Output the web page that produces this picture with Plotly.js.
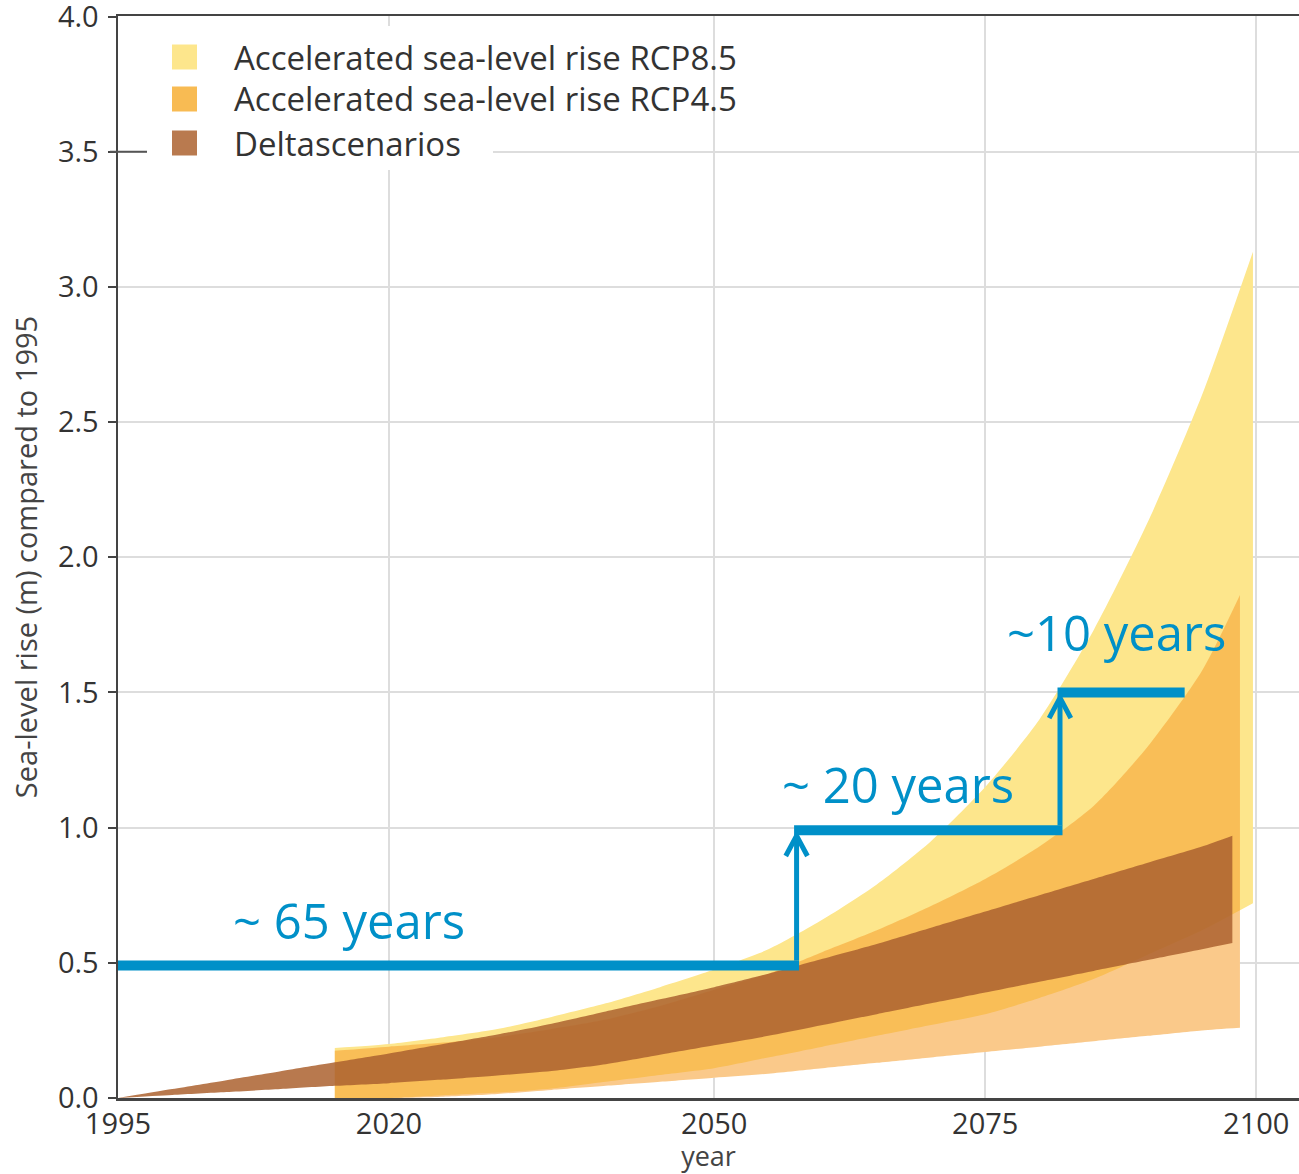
<!DOCTYPE html>
<html>
<head>
<meta charset="utf-8">
<script src="https://cdn.plot.ly/plotly-3.0.1.min.js"></script>
<style>html,body{margin:0;padding:0;background:#fff;}#chart{width:1299px;height:1174px;}</style>
</head>
<body>
<div id="chart"></div>
<script>
// ---------- data ----------
const yearsDelta = [1995, 2000, 2005, 2010, 2015, 2020, 2025, 2030, 2035, 2040, 2045, 2050, 2055, 2060, 2065, 2070, 2075, 2080, 2085, 2090, 2095, 2097.8];
const deltaUpper = [0, 0.033, 0.066, 0.099, 0.132, 0.165, 0.20, 0.235, 0.275, 0.32, 0.365, 0.41, 0.46, 0.515, 0.57, 0.63, 0.69, 0.75, 0.81, 0.87, 0.93, 0.97];
const deltaLower = [0, 0.011, 0.022, 0.033, 0.045, 0.055, 0.068, 0.083, 0.10, 0.125, 0.16, 0.195, 0.23, 0.27, 0.31, 0.35, 0.39, 0.43, 0.47, 0.51, 0.55, 0.573];

const years45 = [2015, 2020, 2025, 2030, 2035, 2040, 2045, 2050, 2055, 2060, 2065, 2070, 2075, 2080, 2085, 2090, 2095, 2098.5];
const rcp45Upper = [0.175, 0.19, 0.205, 0.225, 0.255, 0.29, 0.34, 0.40, 0.46, 0.54, 0.62, 0.71, 0.81, 0.93, 1.08, 1.30, 1.58, 1.86];
const rcp45Lower = [0, 0, 0.005, 0.015, 0.03, 0.045, 0.06, 0.075, 0.09, 0.11, 0.13, 0.15, 0.17, 0.19, 0.21, 0.23, 0.25, 0.26];

const years85 = [2015, 2020, 2025, 2030, 2035, 2040, 2045, 2050, 2055, 2060, 2065, 2070, 2075, 2080, 2085, 2090, 2095, 2099.7];
const rcp85Upper = [0.185, 0.20, 0.225, 0.255, 0.30, 0.35, 0.41, 0.475, 0.55, 0.66, 0.79, 0.95, 1.15, 1.40, 1.73, 2.13, 2.60, 3.13];
const rcp85Lower = [0, 0, 0.01, 0.02, 0.035, 0.06, 0.085, 0.11, 0.15, 0.19, 0.23, 0.27, 0.31, 0.37, 0.44, 0.53, 0.62, 0.72];

const xTickVals = [1995, 2020, 2050, 2075, 2100];
const yTickVals = [0, 0.5, 1, 1.5, 2, 2.5, 3, 3.5, 4];
const legendLabels = ['Accelerated sea-level rise RCP8.5', 'Accelerated sea-level rise RCP4.5', 'Deltascenarios'];

// step annotation: years where each level is reached, and the levels (m)
const stepYears = [1995, 2057.6, 2081.9, 2093.4];
const stepLevels = [0.49, 0.99, 1.5];
const stepLabels = ['~ 65 years', '~ 20 years', '~10 years'];
const stepLabelYears = [2016.3, 2067.0, 2087.1];
const stepLabelLevels = [0.66, 1.16, 1.725];

// ---------- styling ----------
const BLUE = '#0090c8';
const C_YELLOW = '#fde68c';
const C_ORANGE = 'rgba(246,159,46,0.56)';
const C_BROWN = 'rgba(171,97,47,0.85)';
const legendSwatch = ['#fde68c', '#f8bb53', '#b97a4f'];

function bandTraces(xs, up, lo, color, name) {
  const ln = { width: 0, shape: 'spline', smoothing: 0.7 };
  return [
    { x: xs, y: lo, type: 'scatter', mode: 'lines', line: ln, hoverinfo: 'skip', showlegend: false },
    { x: xs, y: up, type: 'scatter', mode: 'lines', line: ln, fill: 'tonexty', fillcolor: color, name: name, showlegend: false }
  ];
}

const traces = [].concat(
  bandTraces(years45, rcp45Upper, rcp45Lower, '#ffffff', 'backing'),
  bandTraces(years85, rcp85Upper, rcp85Lower, C_YELLOW, legendLabels[0]),
  bandTraces(years45, rcp45Upper, rcp45Lower, C_ORANGE, legendLabels[1]),
  bandTraces(yearsDelta, deltaUpper, deltaLower, C_BROWN, legendLabels[2])
);

// pixel helpers for the manual legend (paper coordinates)
const PL = 118, PR = 1299, PT = 16, PB = 1098;
const px = v => (v - PL) / (PR - PL);
const py = v => (PB - v) / (PB - PT);

const shapes = [];
const annotations = [];

// legend box + swatches + labels
shapes.push({ type: 'rect', xref: 'paper', yref: 'paper', x0: px(147), x1: px(493), y0: py(170), y1: py(26), fillcolor: '#ffffff', line: { width: 0 }, layer: 'above' });
// dark extension of the 3.5 tick
shapes.push({ type: 'line', xref: 'paper', yref: 'y', x0: px(110), x1: px(147), y0: 3.5, y1: 3.5, line: { color: '#555555', width: 2 }, layer: 'above' });
const rowY = [57, 99, 143];
legendLabels.forEach((lab, i) => {
  shapes.push({ type: 'rect', xref: 'paper', yref: 'paper', x0: px(172), x1: px(197), y0: py(rowY[i] + 12.5), y1: py(rowY[i] - 12.5), fillcolor: legendSwatch[i], line: { width: 0 }, layer: 'above' });
  annotations.push({ xref: 'paper', yref: 'paper', x: px(232), y: py(rowY[i]), xanchor: 'left', yanchor: 'middle', text: lab, showarrow: false, font: { family: 'Open Sans, sans-serif', size: 33, color: '#333333' } });
});

// blue step
const halfV = 2.5 / 10.84; // half of vertical stroke, in years
for (let i = 0; i < stepLevels.length; i++) {
  const xa = stepYears[i] - (i === 0 ? 0 : halfV);
  const xb = stepYears[i + 1] + (i < stepLevels.length - 1 ? halfV : 0);
  shapes.push({ type: 'line', xref: 'x', yref: 'y', x0: xa, x1: xb, y0: stepLevels[i], y1: stepLevels[i], line: { color: BLUE, width: 10 }, layer: 'above' });
  if (i < stepLevels.length - 1) {
    const xv = stepYears[i + 1];
    const tip = stepLevels[i + 1] - 0.02;
    shapes.push({ type: 'line', xref: 'x', yref: 'y', x0: xv, x1: xv, y0: stepLevels[i] + 0.018, y1: tip, line: { color: BLUE, width: 5 }, layer: 'above' });
    const dx = 1.0, dy = 0.075;
    shapes.push({ type: 'path', xref: 'x', yref: 'y', path: `M ${xv - dx},${tip - dy} L ${xv},${tip} L ${xv + dx},${tip - dy}`, line: { color: BLUE, width: 5 }, layer: 'above' });
  }
}
stepLabels.forEach((t, i) => {
  annotations.push({ xref: 'x', yref: 'y', x: stepLabelYears[i], y: stepLabelLevels[i], xanchor: 'center', yanchor: 'middle', text: t, showarrow: false, font: { family: 'Open Sans, sans-serif', size: 49, color: BLUE } });
});

const layout = {
  width: 1299, height: 1174,
  margin: { l: PL, r: 0, t: PT, b: 1174 - PB, pad: 0 },
  paper_bgcolor: '#ffffff', plot_bgcolor: '#ffffff',
  showlegend: false,
  font: { family: 'Open Sans, sans-serif', color: '#333333' },
  xaxis: {
    range: [1995, 1995 + (PR - PL) / 10.84], tickvals: xTickVals, ticktext: xTickVals.map(String),
    showgrid: true, gridcolor: '#dddddd', gridwidth: 2, zeroline: false,
    showline: true, linecolor: '#444444', linewidth: 2.5, mirror: true,
    ticks: '', ticklabelstandoff: -1, ticklabeloverflow: 'allow', tickfont: { size: 29, color: '#333333' },
    title: { text: 'year', font: { size: 27, color: '#444444' }, standoff: 18 },
    automargin: false, fixedrange: true
  },
  yaxis: {
    range: [0, 4.002], tickvals: yTickVals, tickformat: '.1f',
    showgrid: true, gridcolor: '#dddddd', gridwidth: 2, zeroline: false,
    showline: true, linecolor: '#444444', linewidth: 2.5,
    ticks: 'outside', ticklen: 8, tickwidth: 2, tickcolor: '#444444', ticklabelstandoff: 3,
    ticklabeloverflow: 'allow',
    tickfont: { size: 29, color: '#333333' },
    title: { text: 'Sea-level rise (m) compared to 1995', font: { size: 29, color: '#444444' }, standoff: 12 },
    automargin: false, fixedrange: true
  },
  shapes: shapes,
  annotations: annotations
};

Plotly.newPlot('chart', traces, layout, { displayModeBar: false, staticPlot: true });
</script>
</body>
</html>
